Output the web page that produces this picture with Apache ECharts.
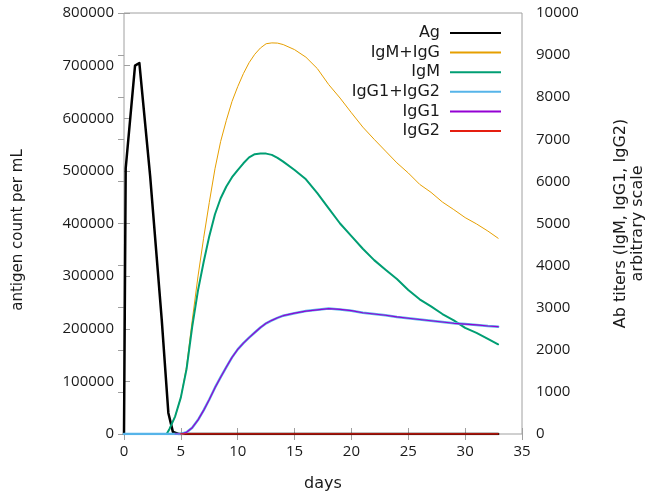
<!DOCTYPE html>
<html>
<head>
<meta charset="utf-8">
<script src="https://cdn.jsdelivr.net/npm/echarts@6/dist/echarts.min.js"></script>
<style>html,body{margin:0;padding:0;background:#fff}#c{width:647px;height:500px}</style>
</head>
<body>
<div id="c"></div>
<script>
// Antigen (left axis)
var agDays = [0, 0.15, 0.97, 1.35, 2.3, 3.32, 3.9, 4.3, 4.8, 32.9];
var agValues = [0, 505000, 700000, 705000, 490000, 217000, 40000, 4000, 0, 0];

// Antibody titers (right axis)
var days = [0,1,2,3,3.75,4,4.5,5,5.5,6,6.5,7,7.5,8,8.5,9,9.5,10,10.5,11,11.5,12,12.5,13,13.5,14,15,16,17,18,19,20,21,22,23,24,25,26,27,28,29,30,31,32,32.9];
var igmIgg = [0,0,0,0,0,120,420,870,1600,2700,3730,4650,5500,6300,6950,7450,7900,8250,8560,8820,9020,9170,9270,9290,9285,9250,9130,8950,8680,8300,7980,7630,7290,7000,6720,6440,6200,5930,5740,5510,5330,5140,4990,4820,4650];
var igm = [0,0,0,0,0,120,420,870,1540,2550,3400,4080,4700,5220,5600,5880,6100,6270,6430,6570,6645,6660,6660,6630,6560,6470,6270,6050,5720,5360,5000,4700,4400,4130,3900,3680,3420,3200,3030,2850,2700,2520,2400,2260,2130];
var igg12 = [0,0,0,0,0,0,0,0,40,150,330,560,820,1100,1350,1590,1820,2010,2160,2290,2410,2530,2630,2700,2760,2810,2870,2920,2950,2980,2960,2930,2880,2850,2820,2780,2750,2720,2690,2660,2630,2610,2590,2565,2550];
var igg1 = [null,null,null,null,null,null,0,0,40,150,330,560,820,1100,1350,1590,1820,2010,2160,2290,2410,2530,2630,2700,2760,2810,2870,2920,2950,2980,2960,2930,2880,2850,2820,2780,2750,2720,2690,2660,2630,2610,2590,2565,2550];
var igg2 = [null,null,null,null,null,null,null,0,0,0,0,0,0,0,0,0,0,0,0,0,0,0,0,0,0,0,0,0,0,0,0,0,0,0,0,0,0,0,0,0,0,0,0,0,0];

var legendNames = ['Ag', 'IgM+IgG', 'IgM', 'IgG1+IgG2', 'IgG1', 'IgG2'];

function pairs(xs, ys) {
  var out = [];
  for (var i = 0; i < xs.length; i++) { if (ys[i] !== null) out.push([xs[i], ys[i]]); }
  return out;
}

var tickFont = 'Open Sans';
var textFont = 'DejaVu Sans';
var txt = '#1a1a1a';
var gray = '#a0a0a0';

function line(name, data, color, width, yIdx) {
  return {
    name: name, type: 'line', yAxisIndex: yIdx, data: data,
    showSymbol: false, symbol: 'none', smooth: false, animation: false,
    lineStyle: { color: color, width: width, join: 'round', cap: 'round' },
    itemStyle: { color: color }
  };
}
function plain(v) { return String(v); }

var chart = echarts.init(document.getElementById('c'));
chart.setOption({
  animation: false,
  textStyle: { fontFamily: textFont },
  grid: { left: 124, right: 125, top: 13, bottom: 66, containLabel: false, outerBoundsMode: 'none',
          show: true, borderColor: gray, borderWidth: 1 },
  legend: {
    orient: 'vertical', right: 141, top: 20, align: 'right',
    icon: 'rect', itemWidth: 51, itemHeight: 2, itemGap: 3.6,
    textStyle: { fontFamily: textFont, fontSize: 16, color: txt, lineHeight: 16, padding: [0, 5, 0, 0] },
    data: legendNames
  },
  xAxis: [{
    type: 'value', min: 0, max: 35, interval: 5,
    name: 'days', nameLocation: 'middle', nameGap: 42,
    nameTextStyle: { fontFamily: textFont, fontSize: 16, color: txt },
    axisLine: { show: false },
    axisTick: { show: true, inside: true, length: 6, lineStyle: { color: gray } },
    axisLabel: { fontFamily: tickFont, fontSize: 15, color: txt, margin: 10, formatter: plain },
    splitLine: { show: false }
  }, {
    type: 'value', min: 0, max: 35, interval: 5, position: 'top',
    axisLine: { show: false },
    axisTick: { show: true, inside: true, length: 6, lineStyle: { color: gray } },
    axisLabel: { show: false }, splitLine: { show: false }
  }],
  yAxis: [{
    type: 'value', min: 0, max: 800000, interval: 100000, position: 'left',
    name: 'antigen count per mL', nameLocation: 'middle', nameGap: 98, nameRotate: 90,
    nameTextStyle: { fontFamily: textFont, fontSize: 15, color: txt, padding: [0, 13, 0, 0] },
    axisLine: { show: false },
    axisTick: { show: true, inside: true, length: 6, lineStyle: { color: gray } },
    axisLabel: { fontFamily: tickFont, fontSize: 15, color: txt, margin: 10, formatter: plain },
    splitLine: { show: false }
  }, {
    type: 'value', min: 0, max: 10000, interval: 1000, position: 'right',
    name: 'Ab titers (IgM, IgG1, IgG2)\narbitrary scale', nameLocation: 'middle', nameGap: 90, nameRotate: 90,
    nameTextStyle: { fontFamily: textFont, fontSize: 16, color: txt, lineHeight: 17, align: 'center' },
    axisLine: { show: false },
    axisTick: { show: true, inside: true, length: 6, lineStyle: { color: gray } },
    axisLabel: { fontFamily: tickFont, fontSize: 15, color: txt, margin: 14, formatter: plain },
    splitLine: { show: false }
  }],
  series: [
    line('Ag', pairs(agDays, agValues), '#000000', 2.5, 0),
    line('IgM+IgG', pairs(days, igmIgg), '#e69f00', 1, 1),
    line('IgM', pairs(days, igm), '#009e73', 2, 1),
    line('IgG1+IgG2', pairs(days, igg12), '#56b4e9', 2.5, 1),
    line('IgG1', pairs(days, igg1), '#9400d3', 1.2, 1),
    line('IgG2', pairs(days, igg2), '#e51e10', 1.5, 1)
  ]
});
</script>
</body>
</html>
